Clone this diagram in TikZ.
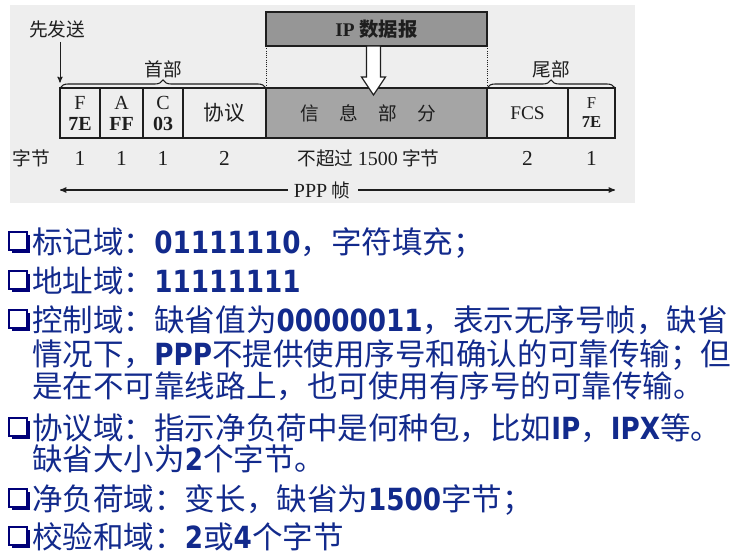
\documentclass[tikz,border=0pt]{standalone}
\usepackage{fontspec}
\setmainfont{Noto Sans CJK SC}
\newfontfamily\cjk{Noto Sans CJK SC}
\newfontfamily\tms{Liberation Serif}
\newfontfamily\latb{DejaVu Sans}[FakeStretch=0.86]
\usepackage{tikz}
\usetikzlibrary{arrows,positioning,decorations.pathreplacing}
\definecolor{txtblue}{RGB}{18,42,140}
\definecolor{bulblue}{RGB}{0,0,120}
\definecolor{scanbg}{RGB}{238,238,238}
\definecolor{ipgray}{RGB}{150,150,150}
\definecolor{infogray}{RGB}{165,165,165}
\definecolor{inkgray}{RGB}{30,30,30}
\newcommand\bdg[1]{{\latb\bfseries #1}}

\begin{document}
\begin{tikzpicture}[x=0.75pt,y=-0.75pt,>=stealth',
  fld/.style={draw=inkgray,line width=0.9pt,inner sep=0pt,outer sep=0pt,
    minimum height=37.5pt,align=center,text=inkgray,font=\tms\fontsize{15}{15.75}\selectfont},
  lbl/.style={inner sep=0pt,text=inkgray,font=\cjk\fontsize{14}{14}\selectfont},
  num/.style={inner sep=0pt,text=inkgray,font=\tms\fontsize{16}{16}\selectfont},
  brc/.style={draw=inkgray,line width=0.8pt,decorate,decoration={brace,amplitude=6pt}},
  line/.style={anchor=base west,inner sep=0pt,text=txtblue,font=\cjk\fontsize{22.9}{22.9}\selectfont}]

  \useasboundingbox (0,0) rectangle (734,559);
  \fill[scanbg] (10,5) rectangle (635,203);

  % the frame
  \node[fld,minimum width=30pt] (fF) at (80,113) {F\\\textbf{7E}};
  \node[fld,minimum width=32.25pt,right=0pt of fF] (fA) {A\\\textbf{FF}};
  \node[fld,minimum width=30pt,right=0pt of fA] (fC) {C\\\textbf{03}};
  \node[fld,minimum width=62.25pt,right=0pt of fC] (fP) {\cjk\fontsize{15.5}{15.5}\selectfont 协议};
  \node[fld,fill=infogray,minimum width=165.75pt,right=0pt of fP] (fI)
    {\cjk\fontsize{14}{14}\selectfont 信\hspace{15.25pt}息\hspace{15.25pt}部\hspace{15.25pt}分\hspace*{12pt}};
  \node[fld,minimum width=60.75pt,right=0pt of fI] (fS) {\fontsize{14.5}{14.5}\selectfont FCS};
  \node[fld,minimum width=35.25pt,right=0pt of fS,font=\tms\fontsize{12.5}{14.25}\selectfont] (fE) {F\\\textbf{7E}};
  \draw[inkgray,line width=2pt] (fE.north east) -- (fE.south east) -- (fF.south west);

  % IP datagram
  \node[fld,fill=ipgray,minimum width=165.75pt,minimum height=25.5pt,above=31.5pt of fI] (ip)
    {\fontsize{14.5}{14.5}\selectfont\textbf{IP} \cjk\bfseries 数据报};
  \draw[inkgray,densely dotted,line width=0.7pt] (ip.south west) -- (fI.north west)
    (ip.south east) -- (fI.north east);
  \draw[inkgray,fill=white,line width=0.9pt] (ip.south) ++(-10,0) -- ++(0,31) -- ++(-5,0)
    -- ++(12,18) -- ++(12,-18) -- ++(-5,0) -- ++(0,-31) -- cycle;

  % braces
  \draw[brc] (fF.north west) -- (fP.north east) node[midway,above=7pt,lbl] (hdr) {首部};
  \draw[brc] (fS.north west) -- (fE.north east) node[midway,above=7pt,lbl] (trl) {尾部};

  \node[lbl] (send) at (57,29) {先发送};
  \draw[->,inkgray,line width=0.7pt] (send.south -| fF.west) ++(0,4) -- ([yshift=4pt]fF.north west);

  % byte counts
  \node[lbl] (byt) at (31,158) {字节};
  \node[num] at (fF |- byt) {1};
  \node[num] at (fA |- byt) {1};
  \node[num] at (fC |- byt) {1};
  \node[num] at (fP |- byt) {2};
  \node[lbl] at ([xshift=-6pt]fI |- byt) {不超过 {\tms\fontsize{15}{15}\selectfont 1500} 字节};
  \node[num] at (fS |- byt) {2};
  \node[num] at (fE |- byt) {1};

  \node[lbl] (ppp) at (322,190) {{\tms\fontsize{15}{15}\selectfont PPP} 帧};
  \draw[->,inkgray,line width=0.8pt] (ppp.west) ++(-6,0) -- (ppp.west -| fF.west);
  \draw[->,inkgray,line width=0.8pt] (ppp.east) ++(8,0) -- (ppp.east -| fE.east);

  % bullets
  \foreach \b in {253,292,331,439,510,548} {
    \fill[bulblue] (12,\b-18) rectangle (30,\b);
    \draw[bulblue,fill=white,line width=1.5pt] (9,\b-21) rectangle (27,\b-3);
  }

  \node[line] (l1) at (32,253) {标记域：\bdg{01111110}，字符填充；};
  \node[line] (l2) at (32,292) {地址域：\bdg{11111111}};
  \node[line] (l3) at (32,331) {控制域：缺省值为\bdg{00000011}，表示无序号帧，缺省};
  \node[line] (l4) at (32,365) {情况下，\bdg{PPP}不提供使用序号和确认的可靠传输；但};
  \node[line] (l5) at (32,397) {是在不可靠线路上，也可使用有序号的可靠传输。};
  \node[line] (l6) at (32,439) {协议域：指示净负荷中是何种包，比如\bdg{IP}，\bdg{IPX}等。};
  \node[line] (l7) at (32,470) {缺省大小为\bdg{2}个字节。};
  \node[line] (l8) at (32,510) {净负荷域：变长，缺省为\bdg{1500}字节；};
  \node[line] (l9) at (32,548) {校验和域：\bdg{2}或\bdg{4}个字节};
\end{tikzpicture}
\end{document}
